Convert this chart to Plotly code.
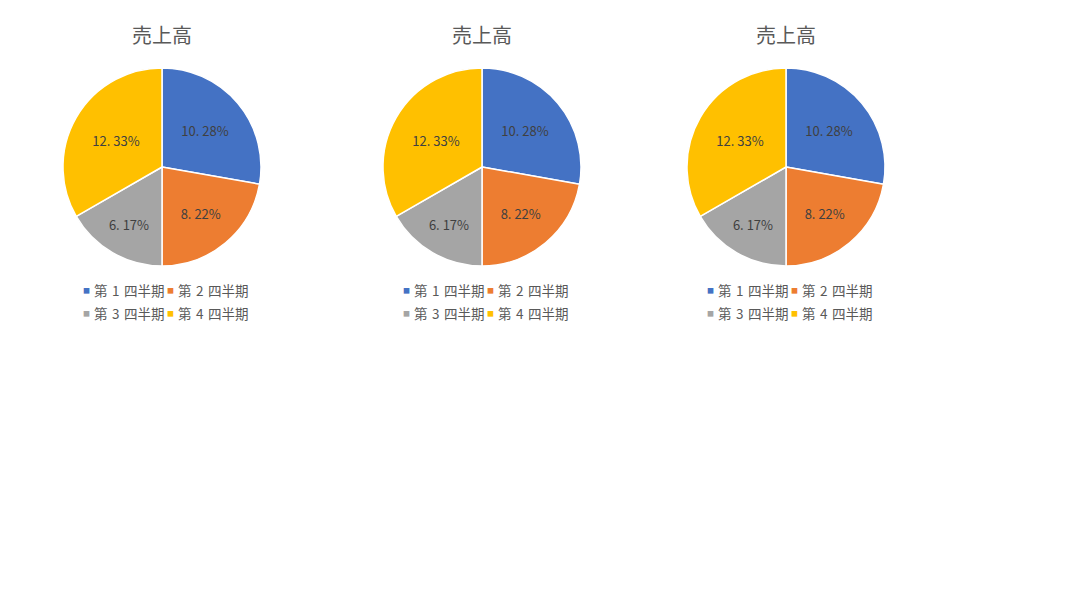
import plotly.graph_objects as go

# --- data ---
quarters = ["第 1 四半期", "第 2 四半期", "第 3 四半期", "第 4 四半期"]
sales = [10.28, 8.22, 6.17, 12.33]
chart_titles = ["売上高", "売上高", "売上高"]

# --- style ---
colors = ["#4472C4", "#ED7D31", "#A5A5A5", "#FFC000"]
W, H = 1083, 605
OFF = 8                                             # page body margin
centers = [(162, 167), (482, 167), (786, 167)]   # pie centres in screen px
R = 99                                              # pie radius in px
font_family = "Noto Sans CJK JP, Noto Sans, sans-serif"
grey = "#595959"


def px_x(x):
    return (x - OFF) / W


def px_y(y):
    return 1 - (y - OFF) / H


# Excel-style labels "10. 28%"
labels_txt = [f"{v:.2f}%".replace(".", ". ") for v in sales]
# slightly wider spaces like the Japanese UI font
legend_txt = [q.replace(" ", "\u2004") for q in quarters]

fig = go.Figure()
annotations = []

for i, (cx, cy) in enumerate(centers):
    fig.add_trace(go.Pie(
        labels=quarters,
        values=sales,
        text=labels_txt,
        textinfo="text",
        textposition="inside",
        insidetextorientation="horizontal",
        textfont=dict(size=13, color="#404040", family=font_family),
        sort=False,
        direction="clockwise",
        rotation=0,
        marker=dict(colors=colors, line=dict(color="white", width=1.5)),
        domain=dict(x=[px_x(cx - R), px_x(cx + R)],
                    y=[px_y(cy + R), px_y(cy - R)]),
        showlegend=False,
        hoverinfo="label+value",
    ))

    # title
    annotations.append(dict(
        text=chart_titles[i], x=px_x(cx), y=px_y(35), xref="paper", yref="paper",
        showarrow=False, xanchor="center", yanchor="middle",
        font=dict(size=20, color=grey, family=font_family),
    ))

    # legend, 2 x 2 grid under the pie
    for k, q in enumerate(legend_txt):
        row, col = divmod(k, 2)
        ly = cy + 123 + row * 23
        sq_x = cx - 76 + col * 84
        annotations.append(dict(
            text="■", x=px_x(sq_x), y=px_y(ly), xref="paper", yref="paper",
            showarrow=False, xanchor="center", yanchor="middle",
            font=dict(size=7, color=colors[k], family=font_family),
        ))
        annotations.append(dict(
            text=q, x=px_x(sq_x + 6), y=px_y(ly), xref="paper", yref="paper",
            showarrow=False, xanchor="left", yanchor="middle",
            font=dict(size=13.5, color=grey, family=font_family),
        ))

fig.update_layout(
    width=W, height=H,
    margin=dict(l=0, r=0, t=0, b=0),
    paper_bgcolor="white",
    plot_bgcolor="white",
    annotations=annotations,
    font=dict(family=font_family),
)

fig.write_html("out.html")
